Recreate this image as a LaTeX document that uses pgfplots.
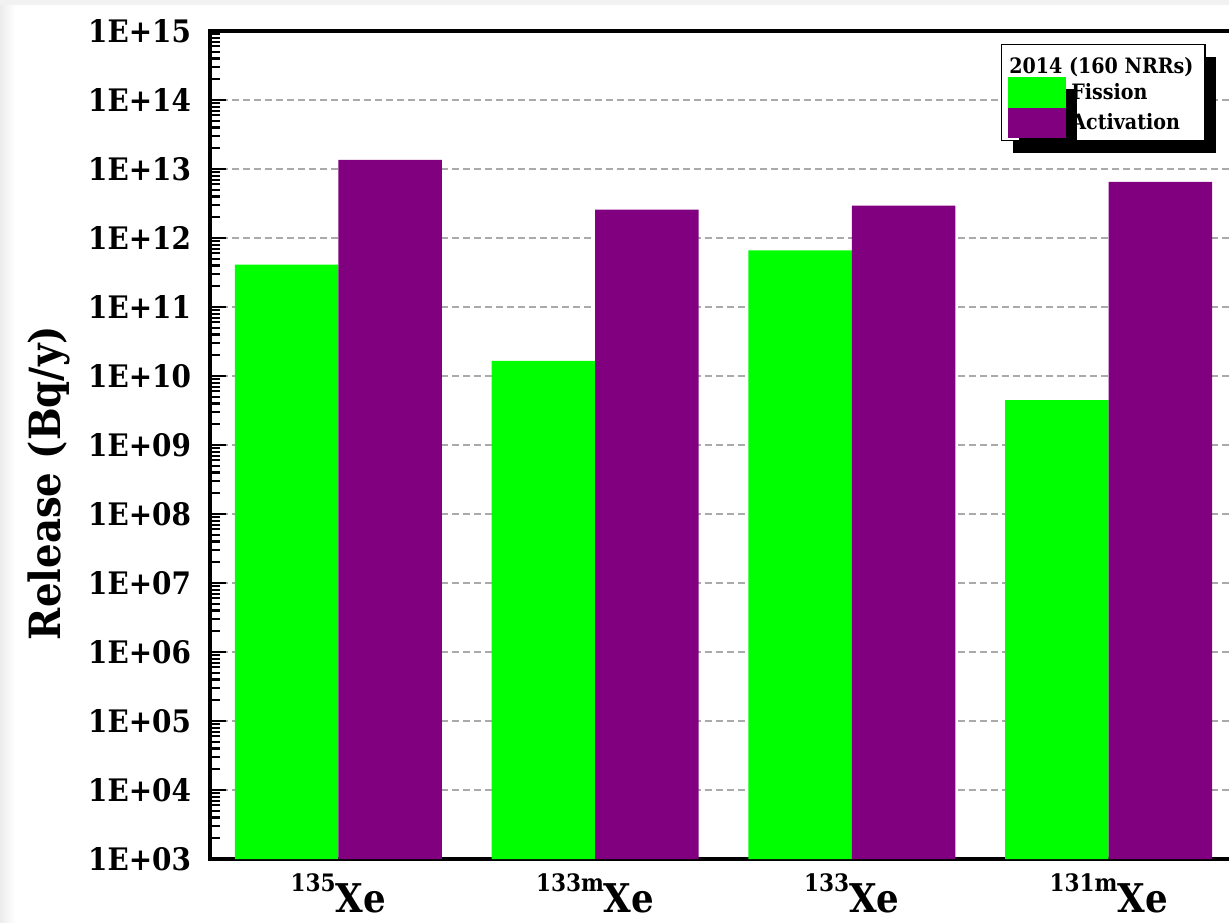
\documentclass[border=0pt]{standalone}
\usepackage{fontspec}
\setmainfont{DejaVu Serif Condensed}
\usepackage{pgfplots}
\pgfplotsset{compat=1.18}
\usetikzlibrary{shadows}
\definecolor{fisgreen}{HTML}{00FF00}
\definecolor{actpurple}{HTML}{800080}
\definecolor{gridgray}{HTML}{AAAAAA}
\begin{document}
\begin{tikzpicture}
\shade[left color=gray!15, right color=white] (0,0) rectangle (7.5pt,458.5pt);
\fill[gray!10] (0,458.5pt) rectangle (614.5pt,461pt);
\begin{axis}[
  at={(105pt,31.5pt)}, anchor=south west,
  width=513.5pt, height=414pt, scale only axis,
  ymode=log, ymin=1e3, ymax=1e15, log origin=infty,
  xmin=-0.5, xmax=3.5,
  axis line style={line width=1.8pt, black},
  ytick={1e3,1e4,1e5,1e6,1e7,1e8,1e9,1e10,1e11,1e12,1e13,1e14,1e15},
  yticklabels={1E+03,1E+04,1E+05,1E+06,1E+07,1E+08,1E+09,1E+10,1E+11,1E+12,1E+13,1E+14,1E+15},
  minor ytick={2e3,3e3,4e3,5e3,6e3,7e3,8e3,9e3,2e4,3e4,4e4,5e4,6e4,7e4,8e4,9e4,2e5,3e5,4e5,5e5,6e5,7e5,8e5,9e5,2e6,3e6,4e6,5e6,6e6,7e6,8e6,9e6,2e7,3e7,4e7,5e7,6e7,7e7,8e7,9e7,2e8,3e8,4e8,5e8,6e8,7e8,8e8,9e8,2e9,3e9,4e9,5e9,6e9,7e9,8e9,9e9,2e10,3e10,4e10,5e10,6e10,7e10,8e10,9e10,2e11,3e11,4e11,5e11,6e11,7e11,8e11,9e11,2e12,3e12,4e12,5e12,6e12,7e12,8e12,9e12,2e13,3e13,4e13,5e13,6e13,7e13,8e13,9e13,2e14,3e14,4e14,5e14,6e14,7e14,8e14,9e14},
  ytick pos=left,
  ytick align=inside,
  major tick length=8pt, minor tick length=5pt,
  every tick/.style={line width=1.1pt, black},
  xtick=\empty,
  extra x ticks={0,1,2,3},
  extra x tick labels={{\raisebox{10.5pt}{\fontsize{12}{12}\selectfont 135}Xe},
               {\raisebox{10.5pt}{\fontsize{12}{12}\selectfont 133m}Xe},
               {\raisebox{10.5pt}{\fontsize{12}{12}\selectfont 133}Xe},
               {\raisebox{10.5pt}{\fontsize{12}{12}\selectfont 131m}Xe}},
  extra x tick style={major tick length=0pt, xticklabel style={font=\bfseries\fontsize{19.8}{20}\selectfont, anchor=base, yshift=-26.5pt}},
  yticklabel style={font=\bfseries\fontsize{15.5}{16}\selectfont, xshift=-6pt},
  ymajorgrids,
  grid style={gridgray, line width=0.8pt, dash pattern=on 3.5pt off 2pt},
  ylabel={Release (Bq/y)},
  every axis y label/.append style={at={(axis description cs:-0.157,0.454)}, anchor=center, font=\bfseries\fontsize{21.5}{22}\selectfont},
  legend style={at={(axis description cs:0.7702,0.984)}, anchor=north west,
     draw=black, line width=0.6pt, fill=white,
     font=\bfseries\fontsize{10.6}{11}\selectfont,
     drop shadow={shadow xshift=5.5pt, shadow yshift=-6pt, fill=black, opacity=1},
     cells={anchor=west}, inner xsep=3pt, inner ysep=1.5pt, row sep=0pt, column sep=2.5pt,
     nodes={inner sep=0.3pt}},
  legend cell align=left,
]
\addlegendimage{empty legend}
\addlegendentry{\hspace*{-31pt}\rule[-7.1pt]{0pt}{19.8pt}2014 (160 NRRs)\hspace*{2.5pt}}
\addlegendimage{legend image code/.code={\fill[fisgreen] (0pt,-7.25pt) rectangle (28.5pt,7.25pt);}}
\addlegendentry{Fission}
\addlegendimage{legend image code/.code={\fill[actpurple] (0pt,-7.25pt) rectangle (28.5pt,7.25pt);}}
\addlegendentry{Activation}
\addplot[forget plot, ybar, bar width=0.4027, bar shift=-0.2014, fill=fisgreen, draw=none]
  coordinates {(0,4.1e11) (1,1.65e10) (2,6.6e11) (3,4.46e9)};
\addplot[forget plot, ybar, bar width=0.4027, bar shift=0.2014, fill=actpurple, draw=none]
  coordinates {(0,1.35e13) (1,2.57e12) (2,2.95e12) (3,6.5e12)};
\end{axis}
\pgfresetboundingbox
\path[use as bounding box] (0,0) rectangle (614.5pt,461pt);
\end{tikzpicture}
\end{document}
